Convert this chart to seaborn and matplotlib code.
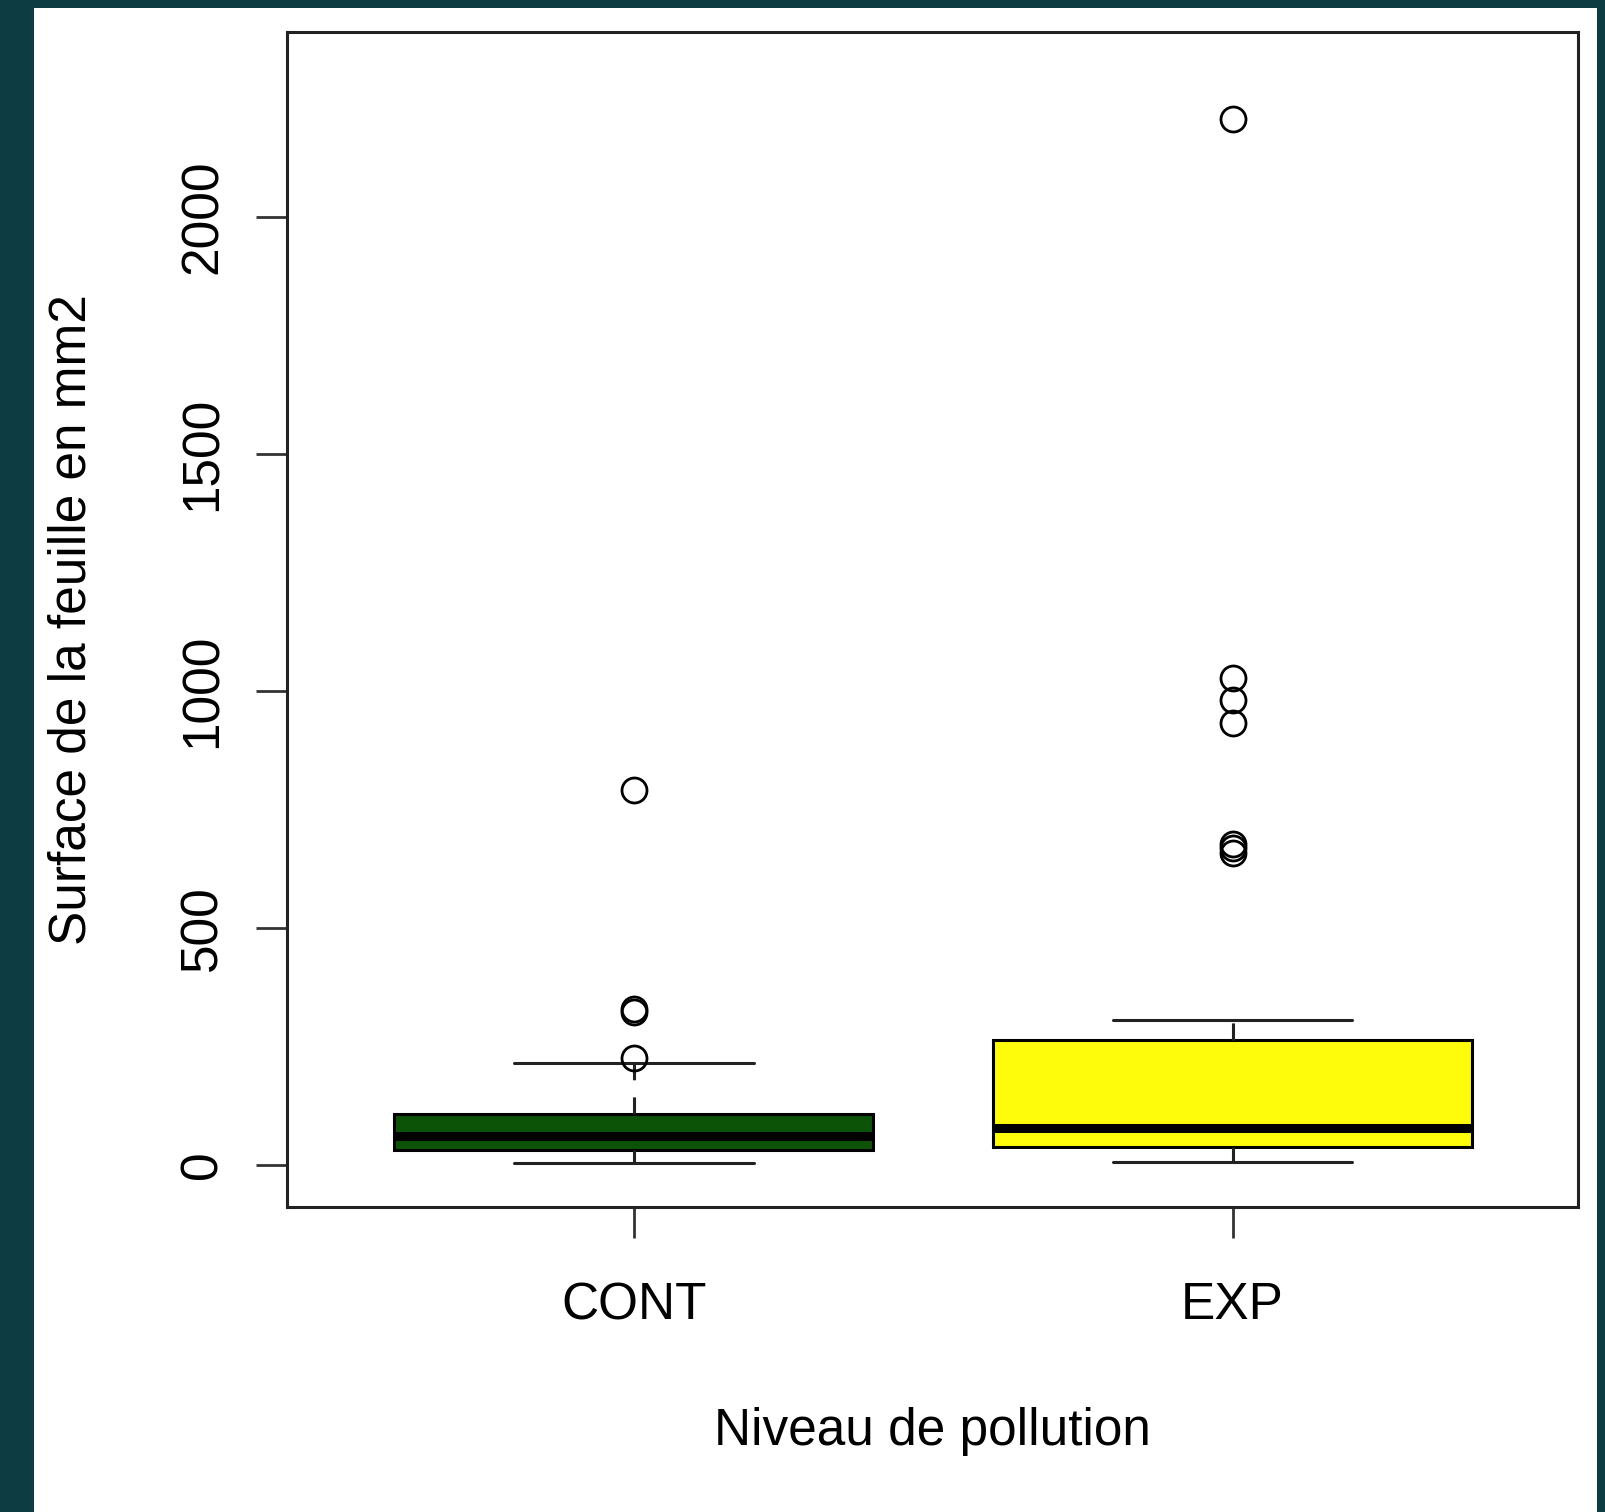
import matplotlib
matplotlib.use("Agg")
import matplotlib.pyplot as plt
from matplotlib.patches import Rectangle
import pandas as pd
import seaborn as sns

# Leaf surface samples (mm2) for each pollution level
niveaux = ["CONT", "EXP"]
surface_cont = [2.5, 9, 15, 21, 26, 31, 38, 45, 51, 56, 61, 68, 77, 88, 97, 107,
                215, 224, 322, 329, 791]
surface_exp = [5, 8, 12, 17, 21, 26, 30, 34, 38, 42, 47, 52, 58, 63, 68, 73, 78,
               90, 110, 135, 160, 190, 215, 240, 263, 305,
               658, 668, 677, 933, 981, 1026, 2208]
couleurs = ["#0C5307", "#FEFC0B"]
yticks = [0, 500, 1000, 1500, 2000]

df = pd.DataFrame({
    "niveau": [niveaux[0]] * len(surface_cont) + [niveaux[1]] * len(surface_exp),
    "surface": surface_cont + surface_exp,
})

sns.set_style("ticks")
plt.rcParams["font.family"] = ["Liberation Sans", "DejaVu Sans"]

W, H = 1606, 1512
fig = plt.figure(figsize=(W / 100, H / 100), dpi=100)
fig.patch.set_facecolor("#0D3C42")
fig.add_artist(Rectangle((34 / W, 0), (1597 - 34) / W, 1 - 8 / H,
                         transform=fig.transFigure, facecolor="white",
                         edgecolor="none", zorder=-5))

ax = fig.add_axes([286.7 / W, 1 - 1207 / H, (1578 - 286.7) / W, (1207 - 31.7) / H])
ax.set_facecolor("white")

lw = 2.2
sns.boxplot(
    data=df, x="niveau", y="surface", hue="niveau", order=niveaux,
    hue_order=niveaux, palette=couleurs, legend=False, width=0.8,
    linewidth=lw, linecolor="black", saturation=1, ax=ax,
    whiskerprops={"linestyle": (0, (5.6, 5.6)), "color": "#222222"},
    capprops={"color": "#222222"},
    medianprops={"linewidth": 6.5, "color": "black"},
    flierprops={"marker": "o", "markersize": 18, "markerfacecolor": "none",
                "markeredgecolor": "black", "markeredgewidth": 2.0},
)

ax.set_xlim(-0.58, 1.577)
ax.set_ylim(-89.7, 2391.4)
ax.set_yticks(yticks)
ax.set_yticklabels([str(v) for v in yticks])

for sp in ax.spines.values():
    sp.set_visible(True)
    sp.set_linewidth(2.2)
    sp.set_color("#222222")

ax.tick_params(axis="both", direction="out", length=22.5, width=2.0,
               color="#333333", labelsize=37, labelcolor="black")
ax.tick_params(axis="x", pad=31)
ax.tick_params(axis="y", pad=20, labelrotation=90)
for t in ax.get_yticklabels():
    t.set_va("center")

ax.set_xlabel("Niveau de pollution", fontsize=37, color="black")
ax.set_ylabel("Surface de la feuille en mm2", fontsize=37, color="black")
ax.xaxis.label.set_va("center")
ax.yaxis.label.set_va("center")
ax.xaxis.set_label_coords(0.5, (1207 - 1431) / (1207 - 31.7))
ax.yaxis.set_label_coords((72.5 - 286.7) / (1578 - 286.7), 0.5)

fig.savefig("out.png", dpi=100, facecolor=fig.get_facecolor())
